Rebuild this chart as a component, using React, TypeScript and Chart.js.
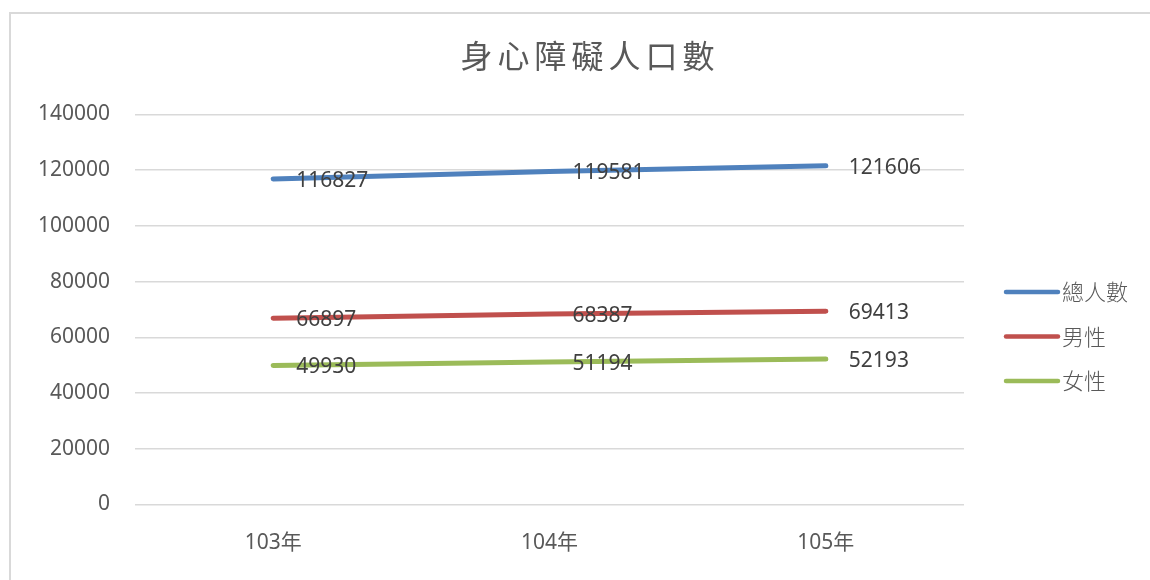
import React, { useEffect, useRef } from "react";
import { Chart, registerables } from "chart.js";

Chart.register(...registerables);

const title = "身心障礙人口數";
const categories = ["103年", "104年", "105年"];
const seriesNames = ["總人數", "男性", "女性"];
const totalValues = [116827, 119581, 121606];
const maleValues = [66897, 68387, 69413];
const femaleValues = [49930, 51194, 52193];
const seriesColors = ["#4f81bd", "#c0504d", "#9bbb59"];
const yMin = 0;
const yMax = 140000;
const yStep = 20000;

const NUM_FONT = "'Noto Sans', 'Noto Sans CJK TC', sans-serif";
const CJK_FONT = "'Noto Sans CJK TC', 'Noto Sans', sans-serif";
const TEXT = "#595959";

const decorPlugin = {
  id: "decor",
  beforeDraw(chart: any) {
    const ctx = chart.ctx;
    ctx.save();
    ctx.strokeStyle = "#d9d9d9";
    ctx.lineWidth = 2;
    ctx.strokeRect(10, 13, 1150, 600);
    ctx.restore();
  },
  afterDraw(chart: any) {
    const ctx = chart.ctx;
    ctx.save();
    // title
    ctx.fillStyle = TEXT;
    ctx.font = `32px ${CJK_FONT}`;
    (ctx as any).letterSpacing = "5px";
    ctx.textAlign = "center";
    ctx.textBaseline = "middle";
    ctx.fillText(title, 590, 56);
    (ctx as any).letterSpacing = "0px";

    // data labels
    ctx.fillStyle = "#404040";
    ctx.font = `21px ${NUM_FONT}`;
    ctx.textAlign = "left";
    ctx.textBaseline = "middle";
    chart.data.datasets.forEach((ds: any, i: number) => {
      const meta = chart.getDatasetMeta(i);
      meta.data.forEach((pt: any, j: number) => {
        ctx.fillText(String(ds.data[j]), pt.x + 23, pt.y + 2);
      });
    });

    // legend
    const lx0 = 1006;
    const lx1 = 1058;
    const ly0 = 292;
    const gap = 44.5;
    chart.data.datasets.forEach((ds: any, i: number) => {
      const y = ly0 + i * gap;
      ctx.strokeStyle = ds.borderColor;
      ctx.lineWidth = 4.5;
      ctx.lineCap = "round";
      ctx.beginPath();
      ctx.moveTo(lx0, y);
      ctx.lineTo(lx1, y);
      ctx.stroke();
      ctx.fillStyle = TEXT;
      ctx.font = `300 22px ${CJK_FONT}`;
      ctx.textAlign = "left";
      ctx.textBaseline = "middle";
      ctx.fillText(ds.label, 1062, y);
    });
    ctx.restore();
  },
};

export default function App() {
  const ref = useRef<HTMLCanvasElement | null>(null);
  useEffect(() => {
    if (!ref.current) return;
    const values = [totalValues, maleValues, femaleValues];
    const chart = new Chart(ref.current, {
      type: "line",
      data: {
        labels: categories,
        datasets: seriesNames.map((name, i) => ({
          label: name,
          data: values[i],
          borderColor: seriesColors[i],
          backgroundColor: seriesColors[i],
          borderWidth: 5,
          borderCapStyle: "round" as const,
          pointRadius: 0,
          pointHoverRadius: 0,
          tension: 0,
          fill: false,
        })),
      },
      options: {
        animation: false,
        responsive: false,
        maintainAspectRatio: false,
        events: [],
        layout: { padding: { left: 0, right: 186, top: 114.5, bottom: 0 } },
        plugins: {
          legend: { display: false },
          title: { display: false },
          tooltip: { enabled: false },
        },
        scales: {
          x: {
            offset: true,
            grid: { display: false, drawTicks: false },
            border: { display: false },
            afterFit(scale: any) {
              scale.height = 75.5;
            },
            ticks: {
              color: TEXT,
              font: { family: NUM_FONT, size: 21 },
              padding: 26,
            },
          },
          y: {
            min: yMin,
            max: yMax,
            afterFit(scale: any) {
              scale.width = 135;
            },
            grid: { color: "#d9d9d9", lineWidth: 1.5, drawTicks: false },
            border: { display: false },
            ticks: {
              stepSize: yStep,
              color: TEXT,
              font: { family: NUM_FONT, size: 21 },
              padding: 25,
              callback: (v: any) => String(v),
            },
          },
        },
      },
      plugins: [decorPlugin],
    });
    return () => chart.destroy();
  }, []);
  return (
    <div style={{ position: "absolute", left: 0, top: 0, width: 1150, height: 580, background: "#fff" }}>
      <canvas ref={ref} width={1150} height={580} style={{ width: 1150, height: 580 }} />
    </div>
  );
}
